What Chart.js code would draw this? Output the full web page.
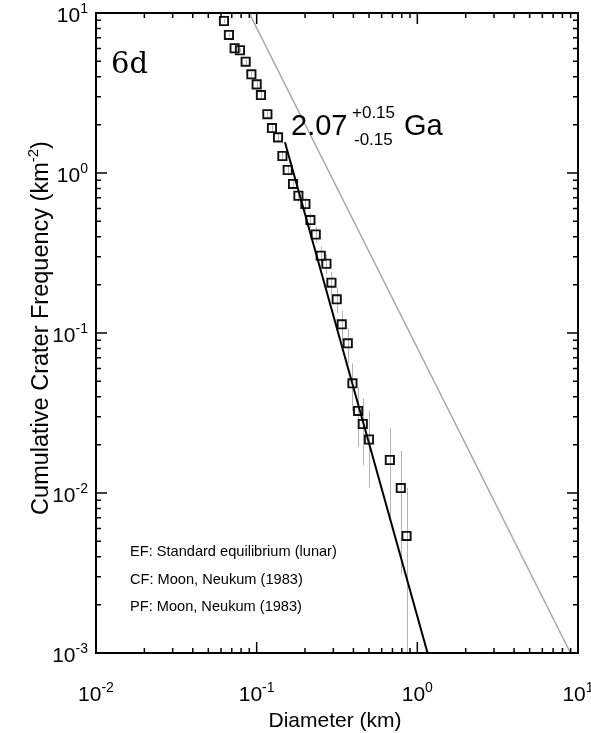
<!DOCTYPE html>
<html>
<head>
<meta charset="utf-8">
<script src="https://cdn.jsdelivr.net/npm/chart.js@4.4.1/dist/chart.umd.min.js"></script>
<style>
  html, body { margin: 0; padding: 0; background: #fff; }
  canvas { display: block; }
</style>
</head>
<body>
<canvas id="cratersChart" width="591" height="733"></canvas>
<script>
// crater size-frequency data (diameter in km, cumulative frequency in km^-2)
const diameters = [0.0626, 0.0672, 0.0729, 0.0787, 0.0854, 0.0927, 0.100, 0.1063, 0.1166, 0.1245,
  0.1358, 0.1446, 0.156, 0.1684, 0.1819, 0.2011, 0.2161, 0.2332, 0.2505, 0.2718,
  0.292, 0.315, 0.3385, 0.369, 0.3947, 0.4278, 0.4575, 0.5001, 0.6744, 0.789, 0.8566];
const frequencies = [8.91, 7.29, 6.02, 5.85, 4.96, 4.14, 3.58, 3.07, 2.33, 1.91,
  1.67, 1.277, 1.044, 0.854, 0.721, 0.640, 0.508, 0.4127, 0.304, 0.271,
  0.2063, 0.1624, 0.1133, 0.0862, 0.0485, 0.03256, 0.027, 0.0216, 0.01608, 0.01074, 0.00539];
const errLow = [8.69, 7.09, 5.84, 5.67, 4.80, 3.99, 3.44, 2.94, 2.22, 1.81,
  1.58, 1.194, 0.969, 0.786, 0.659, 0.581, 0.456, 0.366, 0.263, 0.233,
  0.173, 0.133, 0.0886, 0.0647, 0.0323, 0.0193, 0.0149, 0.0108, 0.0068, 0.0031, 0];
const errHigh = [9.13, 7.49, 6.20, 6.03, 5.12, 4.29, 3.72, 3.20, 2.44, 2.01,
  1.76, 1.36, 1.119, 0.922, 0.783, 0.699, 0.560, 0.460, 0.345, 0.309,
  0.240, 0.192, 0.138, 0.1078, 0.0647, 0.0459, 0.0391, 0.0324, 0.0254, 0.0183, 0.0108];

// equilibrium line and fitted production function
const equilibriumD = [0.0898, 8.98];
const equilibriumN = [10, 0.001];
const fitD = [0.150, 1.158];
const fitN = [1.556, 0.001];

const xTickExps = [-2, -1, 0, 1];
const yTickExps = [-3, -2, -1, 0, 1];
const legendLines = ['EF: Standard equilibrium (lunar)', 'CF: Moon, Neukum (1983)', 'PF: Moon, Neukum (1983)'];

const SANS = '"Liberation Sans", Arial, Helvetica, sans-serif';

function toPoints(xs, ys) {
  return xs.map((x, i) => ({ x: x, y: ys[i] }));
}

// draws a run of text pieces: [text, size, dy]
function drawRuns(ctx, runs, x, y, align) {
  let total = 0;
  runs.forEach(r => { ctx.font = r[1] + 'px ' + SANS; total += ctx.measureText(r[0]).width; });
  let cx = x;
  if (align === 'center') cx = x - total / 2;
  if (align === 'right') cx = x - total;
  ctx.textAlign = 'left';
  ctx.textBaseline = 'alphabetic';
  runs.forEach(r => {
    ctx.font = r[1] + 'px ' + SANS;
    ctx.fillText(r[0], cx, y + (r[2] || 0));
    cx += ctx.measureText(r[0]).width;
  });
}

const errorBarsPlugin = {
  id: 'errorBars',
  beforeDatasetsDraw(chart) {
    const ctx = chart.ctx;
    const xs = chart.scales.x, ys = chart.scales.y;
    const area = chart.chartArea;
    ctx.save();
    ctx.beginPath();
    ctx.rect(area.left, area.top, area.right - area.left, area.bottom - area.top);
    ctx.clip();
    ctx.strokeStyle = '#b4b4b4';
    ctx.lineWidth = 1;
    for (let i = 0; i < diameters.length; i++) {
      const px = Math.round(xs.getPixelForValue(diameters[i])) + 0.5;
      const lo = errLow[i] > ys.min ? ys.getPixelForValue(errLow[i]) : area.bottom;
      const hi = ys.getPixelForValue(errHigh[i]);
      ctx.beginPath();
      ctx.moveTo(px, lo);
      ctx.lineTo(px, hi);
      ctx.stroke();
    }
    ctx.restore();
  }
};

const framePlugin = {
  id: 'frame',
  afterDraw(chart) {
    const ctx = chart.ctx;
    const xs = chart.scales.x, ys = chart.scales.y;
    const a = chart.chartArea;
    ctx.save();
    ctx.strokeStyle = '#000';
    ctx.lineWidth = 2;
    ctx.strokeRect(a.left, a.top, a.right - a.left, a.bottom - a.top);

    // log ticks on all four sides, pointing inwards
    ctx.lineWidth = 1.5;
    for (let e = xTickExps[0]; e < xTickExps[xTickExps.length - 1] + 1; e++) {
      for (let k = 1; k <= 9; k++) {
        const v = k * Math.pow(10, e);
        if (v < xs.min * 0.999 || v > xs.max * 1.001) continue;
        const px = xs.getPixelForValue(v);
        const len = k === 1 ? 11 : 5;
        ctx.beginPath();
        ctx.moveTo(px, a.bottom); ctx.lineTo(px, a.bottom - len);
        ctx.moveTo(px, a.top); ctx.lineTo(px, a.top + len);
        ctx.stroke();
      }
    }
    for (let e = yTickExps[0]; e < yTickExps[yTickExps.length - 1] + 1; e++) {
      for (let k = 1; k <= 9; k++) {
        const v = k * Math.pow(10, e);
        if (v < ys.min * 0.999 || v > ys.max * 1.001) continue;
        const py = ys.getPixelForValue(v);
        const len = k === 1 ? 11 : 5;
        ctx.beginPath();
        ctx.moveTo(a.left, py); ctx.lineTo(a.left + len, py);
        ctx.moveTo(a.right, py); ctx.lineTo(a.right - len, py);
        ctx.stroke();
      }
    }

    ctx.fillStyle = '#000';
    // tick labels
    xTickExps.forEach(e => {
      const px = xs.getPixelForValue(Math.pow(10, e));
      drawRuns(ctx, [['10', 21], [String(e), 14, -9]], px, 701, 'center');
    });
    yTickExps.forEach(e => {
      const py = ys.getPixelForValue(Math.pow(10, e));
      drawRuns(ctx, [['10', 21], [String(e), 14, -9]], a.left - 8, py + 9, 'right');
    });

    // axis titles
    drawRuns(ctx, [['Diameter (km)', 21]], (a.left + a.right) / 2 - 2, 727, 'center');
    ctx.save();
    ctx.translate(48, 328);
    ctx.rotate(-Math.PI / 2);
    drawRuns(ctx, [['Cumulative Crater Frequency (km', 23.5], ['-2', 15, -10], [')', 23.5]], 0, 0, 'center');
    ctx.restore();

    // panel label
    ctx.font = '29px "DejaVu Serif", serif';
    ctx.textAlign = 'left';
    ctx.fillText('6d', 111, 73);

    // model age
    drawRuns(ctx, [['2.07', 29]], 291, 135, 'left');
    drawRuns(ctx, [['+0.15', 17]], 352, 118, 'left');
    drawRuns(ctx, [['-0.15', 17]], 354, 145, 'left');
    drawRuns(ctx, [['Ga', 29]], 404, 135, 'left');

    // notes
    legendLines.forEach((t, i) => {
      drawRuns(ctx, [[t, 14.6]], 130, 556 + i * 27.5, 'left');
    });
    ctx.restore();
  }
};

new Chart(document.getElementById('cratersChart').getContext('2d'), {
  type: 'scatter',
  data: {
    datasets: [
      {
        label: 'PF',
        data: toPoints(fitD, fitN),
        showLine: true,
        borderColor: '#000',
        borderWidth: 2,
        pointRadius: 0
      },
      {
        label: 'EF',
        data: toPoints(equilibriumD, equilibriumN),
        showLine: true,
        borderColor: '#a8a8a8',
        borderWidth: 1.5,
        pointRadius: 0
      },
      {
        label: 'craters',
        data: toPoints(diameters, frequencies),
        pointStyle: 'rect',
        pointRadius: 5.8,
        borderColor: '#111',
        borderWidth: 1.9,
        backgroundColor: 'rgba(0,0,0,0)'
      }
    ]
  },
  options: {
    responsive: false,
    animation: false,
    devicePixelRatio: 1,
    layout: { padding: { left: 96, right: 13, top: 13, bottom: 80 } },
    plugins: { legend: { display: false }, tooltip: { enabled: false } },
    scales: {
      x: { type: 'logarithmic', min: 0.01, max: 10, display: false },
      y: { type: 'logarithmic', min: 0.001, max: 10, display: false }
    }
  },
  plugins: [errorBarsPlugin, framePlugin]
});
</script>
</body>
</html>
